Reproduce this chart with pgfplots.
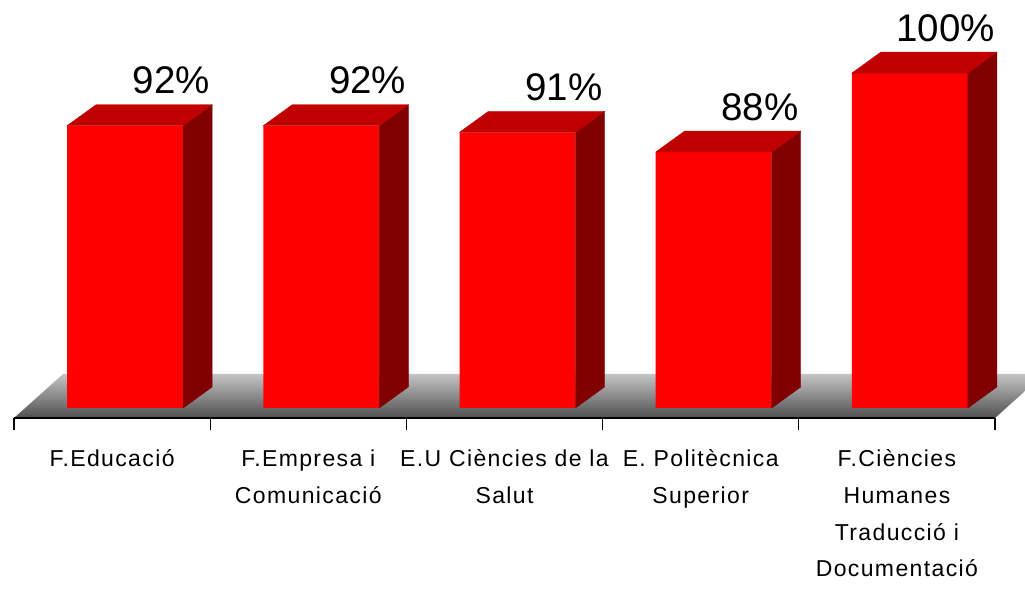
\documentclass[border=0pt]{standalone}
\usepackage{fontspec}
\setmainfont{Liberation Sans}
\newfontfamily\lblfont{Liberation Sans}[LetterSpace=6]
\usepackage{pgfplots}
\usepackage{pgfplotstable}
\pgfplotsset{compat=1.18}

\definecolor{barfront}{RGB}{255,0,0}
\definecolor{bartop}{RGB}{192,0,0}
\definecolor{barside}{RGB}{128,0,0}
\definecolor{floortop}{RGB}{196,196,196}
\definecolor{floorbot}{RGB}{80,80,80}

% percentage per centre
\pgfplotstableread{
x v
0 92
1 92
2 91
3 88
4 100
}\rates

\begin{document}
\begin{tikzpicture}
\path[use as bounding box] (0,0) rectangle (1025pt,589pt);

% floor, category axis and labels
\begin{axis}[
    at={(14pt,171pt)}, anchor=south west,
    x=196.2pt, y=6.58pt,
    xmin=-0.5, xmax=4.5, ymin=47.6, ymax=60,
    axis x line*=bottom, axis y line=none,
    x axis line style={black, line width=1.3pt},
    axis on top, clip=false,
    xtick={0,...,4},
    xticklabels={\strut F.Educació, \strut F.Empresa i\\Comunicació,
                 \strut E.U Ciències de la\\Salut, \strut E. Politècnica\\Superior,
                 \strut F.Ciències\\Humanes\\Traducció i\\Documentació},
    major tick length=0pt,
    minor xtick={-0.5,0.5,...,4.5},
    minor tick length=12pt,
    tick align=outside,
    every minor tick/.append style={black, line width=1.3pt},
    xticklabel style={font=\lblfont\fontsize{23}{36.7}\selectfont, align=center,
                      anchor=north, inner sep=0pt},
    xticklabel shift=23pt,
]
\shade[top color=floortop, bottom color=floorbot]
    (axis cs:-0.5,47.6) -- (axis cs:4.5,47.6) -- (axis cs:4.75,54.29)
    -- (axis cs:-0.25,54.29) -- cycle;
\end{axis}

% bars
\begin{axis}[
    at={(14pt,181pt)}, anchor=south west,
    x=196.2pt, y=6.58pt,
    xmin=-0.5, xmax=4.5, ymin=49.1, ymax=110,
    hide axis,
]
\addplot[ybar, bar width=116pt, bar shift=13pt, fill=barfront, draw=none]
    table[x=x, y=v] {\rates};
% top and side faces plus value labels
\addplot[only marks, scatter, mark=*, mark size=0pt,
    mark options={draw=none, fill=none},
    visualization depends on=rawy\as\rawy,
    scatter/@pre marker code/.code={
        \pgfmathsetlengthmacro\hb{(\rawy-49.1)*6.58pt}
        \pgfmathtruncatemacro\vv{round(\rawy)}
        \fill[barside] (71pt,0pt) -- (100pt,21pt) -- (100pt,{21pt-\hb}) -- (71pt,-\hb) -- cycle;
        \fill[bartop] (-45pt,0pt) -- (71pt,0pt) -- (100pt,21pt) -- (-16pt,21pt) -- cycle;
        \node[anchor=base east, inner sep=0pt, font=\fontsize{38.5}{46}\selectfont]
            at (98pt,32pt) {\vv\%};
    },
    scatter/@post marker code/.code={},
] table[x=x, y=v] {\rates};
\end{axis}
\end{tikzpicture}
\end{document}
